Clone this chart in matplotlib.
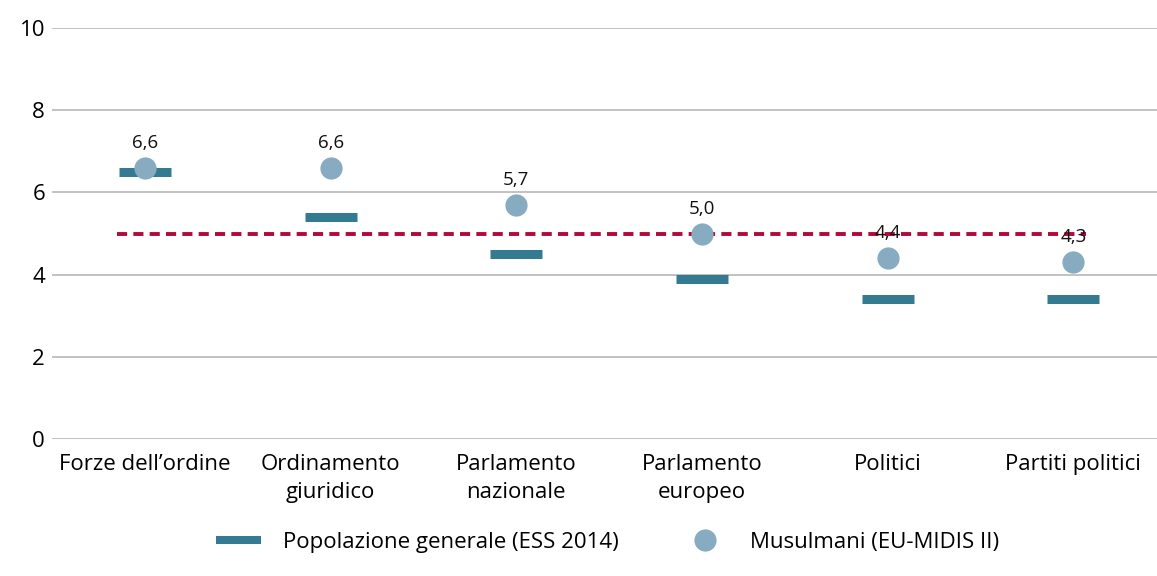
import matplotlib.pyplot as plt
from matplotlib.lines import Line2D
import numpy as np

plt.rcParams['font.family'] = ['Open Sans', 'DejaVu Sans']

categories = ['Forze dell\u2019ordine', 'Ordinamento\ngiuridico', 'Parlamento\nnazionale',
              'Parlamento\neuropeo', 'Politici', 'Partiti politici']
popolazione = [6.5, 5.4, 4.5, 3.9, 3.4, 3.4]
musulmani = [6.6, 6.6, 5.7, 5.0, 4.4, 4.3]
media = 5.0

teal = '#347a91'
light = '#87abc1'
red = '#b5083a'

fig = plt.figure(figsize=(11.57, 5.76), dpi=100)
ax = fig.add_axes([0.045, 0.238, 0.955, 0.713])

x = np.arange(len(categories))

# reference line
ax.plot([-0.15, 5.07], [media, media], color=red, lw=2.8, ls=(0, (2.6, 1.6)), zorder=2)

# population dash markers
ax.plot(x, popolazione, ls='none', marker='_', markersize=37.5, markeredgewidth=6.5,
        color=teal, zorder=3)
# muslims dots
ax.plot(x, musulmani, ls='none', marker='o', markersize=16, markeredgewidth=0,
        color=light, zorder=4)

for xi, v in zip(x, musulmani):
    ax.annotate(f'{v:.1f}'.replace('.', ','), (xi, v), xytext=(0, 11.5), textcoords='offset points',
                ha='center', va='bottom', fontsize=13.5, color='#111111')

ax.set_ylim(0, 10)
ax.set_xlim(-0.5, 5.45)
ax.set_yticks(range(0, 11, 2))
ax.yaxis.grid(True, color='#b8b8b8', lw=1.2)
ax.set_axisbelow(True)
for s in ax.spines.values():
    s.set_visible(False)
ax.tick_params(axis='y', length=0, labelsize=16, pad=5)
ax.tick_params(axis='x', length=0, labelsize=16, pad=11)
ax.set_xticks(x)
ax.set_xticklabels(categories, linespacing=1.4)

handles = [Line2D([], [], color=teal, lw=5.8, solid_capstyle='butt'),
           Line2D([], [], marker='o', ls='none', color=light, markersize=16, markeredgewidth=0)]
fig.legend(handles, ['Popolazione generale (ESS 2014)', 'Musulmani (EU-MIDIS II)'],
           loc='center', bbox_to_anchor=(0.525, 0.058), ncol=2, frameon=False,
           fontsize=16, handlelength=2.0, columnspacing=2.9, handletextpad=1.0,
           borderpad=0, borderaxespad=0)

fig.savefig('out.png', dpi=100)
